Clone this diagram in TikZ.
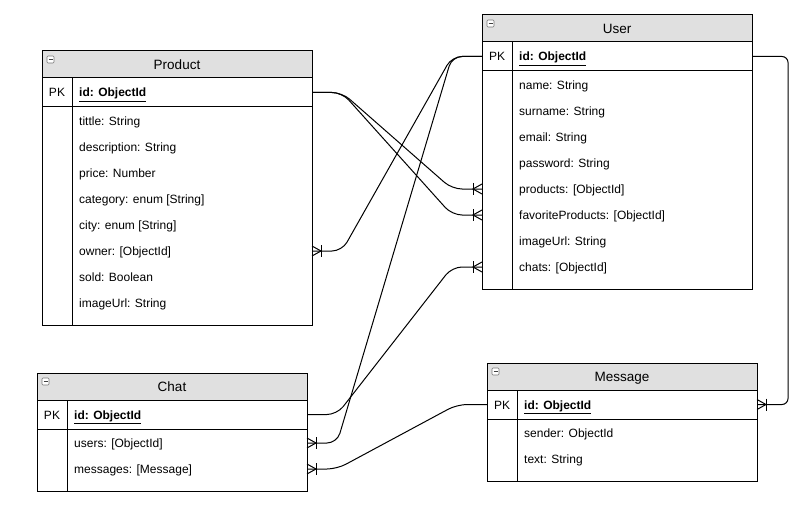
\documentclass[tikz,border=0pt]{standalone}
\usepackage{fontspec}
\setmainfont{Liberation Sans}
\definecolor{hdrgray}{RGB}{224,224,224}
\definecolor{icongray}{RGB}{120,120,120}
\tikzset{
  tbl/.style={draw=black, line width=1pt},
  rowbox/.style={inner sep=0pt, outer sep=0pt, minimum width=270pt, minimum height=26pt},
  rowtext/.style={anchor=base west, inner sep=0pt, font=\fontsize{12}{14}\selectfont},
  pktext/.style={anchor=base, inner sep=0pt, font=\fontsize{12}{14}\selectfont},
  titletext/.style={anchor=base, inner sep=0pt, font=\fontsize{13.5}{16}\selectfont},
  conn/.style={draw=black, line width=1pt, rounded corners=10pt},
  crowfoot/.pic={
    \draw[line width=1pt] (-9,-6) -- (-9,6);
    \draw[line width=1pt] (0,-5) -- (-9,0) -- (0,5);
  }
}
\newcommand\erframe[6]{%
  \pgfmathsetmacro\erbot{#3+56+26*#5+10}
  \filldraw[tbl, fill=hdrgray] (#2,#3) rectangle (#2+270,#3+27);
  \draw[tbl] (#2,#3) rectangle (#2+270,\erbot);
  \draw[tbl] (#2,#3+56) -- (#2+270,#3+56);
  \draw[tbl] (#2+30,#3+27) -- (#2+30,\erbot);
  \draw[icongray, line width=0.6pt, rounded corners=1pt, fill=white] (#2+5,#3+5) rectangle (#2+12,#3+12);
  \draw[black!75, line width=0.8pt] (#2+6.5,#3+8.5) -- (#2+10.5,#3+8.5);
  \node[titletext] (#1-title) at (#2+135,#3+18.5) {#4};
  \node[rowbox] (#1-id) at (#2+135,#3+41.5) {};
  \node[pktext] (#1-pk) at (#2+15,#3+46) {PK};
  \node[rowtext] (#1-key) at (#2+37,#3+46) {\underline{\textbf{id: ObjectId}}};
  \foreach \t [count=\i] in {#6} {
    \node[rowbox] (#1-r\i) at (#2+135,#3+44+26*\i) {};
    \node[rowtext] (#1-t\i) at (#2+37,#3+48.5+26*\i) {\t};
  }
}
\begin{document}
\begin{tikzpicture}[x=1pt,y=-1pt]
\useasboundingbox (0,0) rectangle (805,513);
\fill[white] (0,0) rectangle (805,513);

\erframe{p}{42}{51}{Product}{8}{{tittle: String},{description: String},{price: Number},{category: enum [String]},{city: enum [String]},{owner: [ObjectId]},{sold: Boolean},{imageUrl: String}}
\erframe{u}{482}{15}{User}{8}{{name: String},{surname: String},{email: String},{password: String},{products: [ObjectId]},{favoriteProducts: [ObjectId]},{imageUrl: String},{chats: [ObjectId]}}
\erframe{c}{37}{373}{Chat}{2}{{users: [ObjectId]},{messages: [Message]}}
\erframe{m}{487}{363}{Message}{2}{{sender: ObjectId},{text: String}}

\draw[conn] (p-id.east) -- ++(30,0) -- ([xshift=-30pt]u-r5.west) -- (u-r5.west);
\draw[conn] (p-id.east) -- ++(30,0) -- ([xshift=-30pt]u-r6.west) -- (u-r6.west);
\draw[conn] (u-id.west) -- ++(-30,0) -- ([xshift=30pt]p-r6.east) -- (p-r6.east);
\draw[conn] (u-id.west) -- ++(-30,0) -- ([xshift=30pt]c-r1.east) -- (c-r1.east);
\draw[conn] (c-id.east) -- ++(30,0) -- ([xshift=-30pt]u-r8.west) -- (u-r8.west);
\draw[conn] (m-id.west) -- ++(-30,0) -- ([xshift=30pt]c-r2.east) -- (c-r2.east);
\draw[conn, rounded corners=6pt] (u-id.east) -- ++(36,0) |- (m-id.east);

\pic at (u-r5.west) {crowfoot};
\pic at (u-r6.west) {crowfoot};
\pic at (u-r8.west) {crowfoot};
\pic[xscale=-1] at (p-r6.east) {crowfoot};
\pic[xscale=-1] at (c-r1.east) {crowfoot};
\pic[xscale=-1] at (c-r2.east) {crowfoot};
\pic[xscale=-1] at (m-id.east) {crowfoot};
\end{tikzpicture}
\end{document}
